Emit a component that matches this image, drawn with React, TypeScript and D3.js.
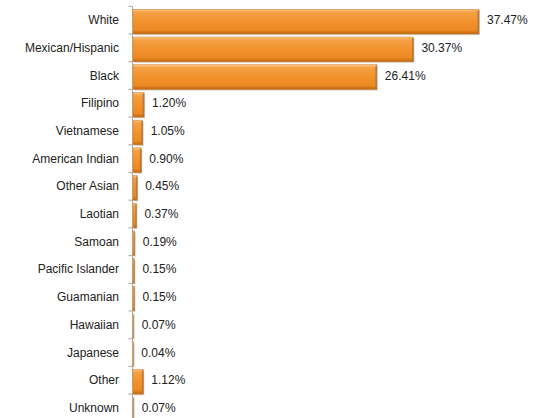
import { useEffect, useRef } from "react"
import * as d3 from "d3"

const categories = [
    "White", "Mexican/Hispanic", "Black", "Filipino", "Vietnamese", "American Indian",
    "Other Asian", "Laotian", "Samoan", "Pacific Islander", "Guamanian", "Hawaiian",
    "Japanese", "Other", "Unknown",
]
const values = [37.47, 30.37, 26.41, 1.20, 1.05, 0.90, 0.45, 0.37, 0.19, 0.15, 0.15, 0.07, 0.04, 1.12, 0.07]
const valueLabels = values.map(v => v.toFixed(2) + "%")

export default function App() {
    const ref = useRef<SVGSVGElement>(null)

    useEffect(() => {
        const width = 549
        const height = 418
        const axisX = 132.5
        const top = 6.3
        const bottom = 421.8

        const svg = d3.select(ref.current)
        svg.selectAll("*").remove()
        svg.attr("width", width).attr("height", height).attr("viewBox", `0 0 ${width} ${height}`)

        const scX = d3.scaleLinear().domain([0, 37.47]).range([axisX + 0.5, 479])
        const scY = d3.scaleBand().domain(categories).range([top, bottom]).paddingInner(0)
        const bw = scY.bandwidth()

        const defs = svg.append("defs")
        const grad = defs.append("linearGradient")
            .attr("id", "barGrad").attr("x1", 0).attr("y1", 0).attr("x2", 0).attr("y2", 1)
        grad.append("stop").attr("offset", "0%").attr("stop-color", "#fac88a")
        grad.append("stop").attr("offset", "12%").attr("stop-color", "#f4a044")
        grad.append("stop").attr("offset", "50%").attr("stop-color", "#f2922c")
        grad.append("stop").attr("offset", "84%").attr("stop-color", "#ec8a24")
        grad.append("stop").attr("offset", "100%").attr("stop-color", "#bd6612")

        const rows = svg.append("g").attr("class", "bars")
            .selectAll("g").data(categories).enter().append("g")

        const barY = (d: string) => (scY(d) as number) + bw * 0.11
        const barW = (i: number) => Math.max(0.6, scX(values[i]) - scX(0))

        // drop shadow
        rows.append("rect")
            .attr("x", scX(0) + 1)
            .attr("y", d => barY(d) + 1.2)
            .attr("width", (_, i) => barW(i))
            .attr("height", bw * 0.89)
            .attr("fill", "#000").attr("opacity", 0.18)

        rows.append("rect")
            .attr("x", scX(0))
            .attr("y", d => barY(d))
            .attr("width", (_, i) => barW(i))
            .attr("height", bw * 0.89)
            .attr("fill", "url(#barGrad)")
            .attr("stroke", "#d27818").attr("stroke-width", 0.5)

        // darker right bevel
        rows.append("rect")
            .attr("x", (_, i) => scX(0) + barW(i) - Math.min(1.5, barW(i) * 0.3))
            .attr("y", d => barY(d) + 1)
            .attr("width", (_, i) => Math.min(1.5, barW(i) * 0.3))
            .attr("height", bw * 0.89 - 1)
            .attr("fill", "#c86e16").attr("opacity", 0.8)

        // value labels
        rows.append("text")
            .attr("x", (_, i) => scX(values[i]) + 8)
            .attr("y", d => (scY(d) as number) + bw / 2 + 4)
            .attr("font-family", "Liberation Sans, Arial, sans-serif")
            .attr("font-size", 12)
            .attr("fill", "#222")
            .text((_, i) => valueLabels[i])

        // axis
        const axis = svg.append("g").attr("stroke", "#a6a6a6").attr("stroke-width", 1)
        axis.append("path").attr("d", `M${axisX} ${top} V${bottom}`)
        const ticks = categories.map(c => scY(c) as number).concat([bottom])
        axis.selectAll("line.tick").data(ticks).enter().append("line")
            .attr("x1", axisX - 4).attr("x2", axisX)
            .attr("y1", d => d).attr("y2", d => d)

        svg.append("g").selectAll("text").data(categories).enter().append("text")
            .attr("x", 119)
            .attr("y", d => (scY(d) as number) + bw / 2 + 4)
            .attr("text-anchor", "end")
            .attr("font-family", "Liberation Sans, Arial, sans-serif")
            .attr("font-size", 12)
            .attr("fill", "#222")
            .text(d => d)
    }, [])

    return (
        <svg ref={ref} style={{ position: "absolute", left: 0, top: 0 }}></svg>
    )
}
